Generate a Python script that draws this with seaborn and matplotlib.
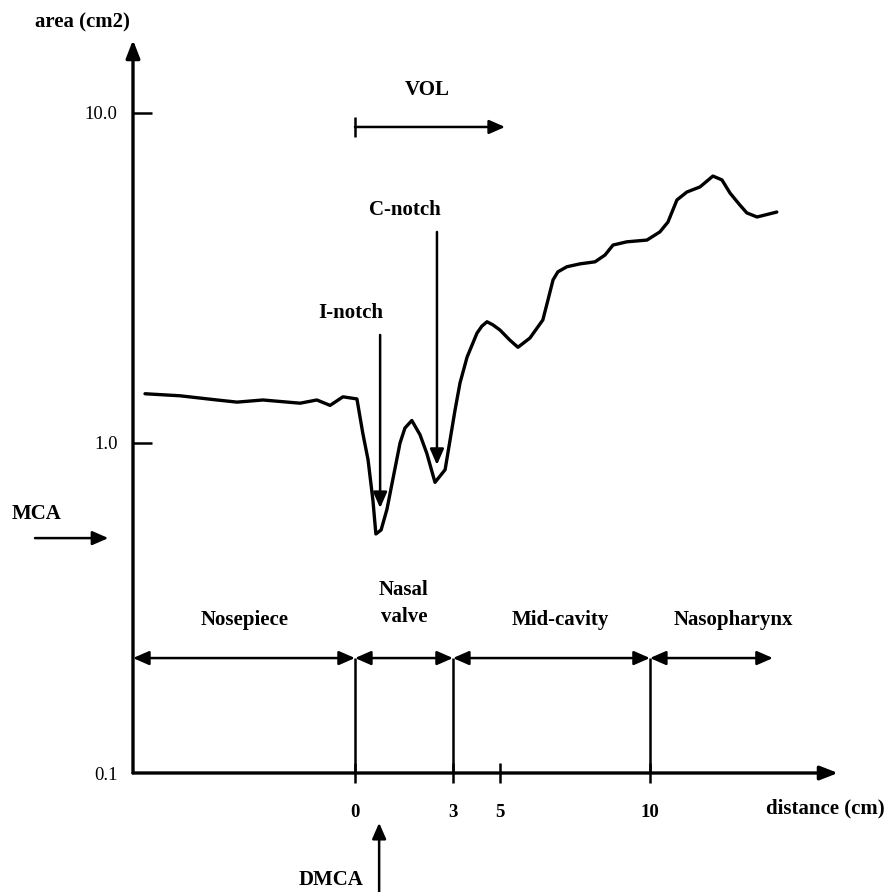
import numpy as np
import matplotlib
matplotlib.use('Agg')
import matplotlib.pyplot as plt
import seaborn as sns

# acoustic rhinometry curve
dist_cm = [-7.0, -5.83, -4.6, -3.93, -3.07, -1.83, -1.27, -0.83, -0.40, 0.06,
           0.24, 0.40, 0.55, 0.64, 0.80, 0.98, 1.13, 1.38, 1.53, 1.74, 1.99,
           2.20, 2.45, 2.76, 3.09, 3.3, 3.60, 4.02, 4.23, 4.45, 4.7, 5.0,
           5.33, 5.6, 6.0, 6.43, 6.6, 6.77, 6.93, 7.23, 7.67, 8.17, 8.5,
           8.77, 9.23, 9.9, 10.33, 10.6, 10.9, 11.23, 11.67, 11.83, 12.1,
           12.4, 12.67, 13.0, 13.23, 13.57, 14.23]
area_cm2 = [1.41, 1.39, 1.35, 1.33, 1.35, 1.32, 1.35, 1.30, 1.38, 1.36,
            1.07, 0.89, 0.67, 0.53, 0.545, 0.63, 0.75, 1.0, 1.11, 1.17, 1.06,
            0.93, 0.76, 0.83, 1.26, 1.52, 1.82, 2.15, 2.26, 2.33, 2.28, 2.20,
            2.05, 1.95, 2.08, 2.36, 2.71, 3.12, 3.30, 3.42, 3.49, 3.54, 3.71,
            3.98, 4.07, 4.12, 4.36, 4.67, 5.45, 5.76, 5.97, 6.14, 6.44,
            6.27, 5.72, 5.26, 4.98, 4.84, 5.01]

# anatomical regions (cm)
region_names = ['Nosepiece', 'Nasal\nvalve', 'Mid-cavity', 'Nasopharynx']
region_starts = [-7.4, 0, 3, 10]
region_ends = [0, 3, 10, 14.1]
region_label_x = [-3.67, 1.5, 7.0, 12.77]
region_edges = [0, 3, 10]

x_ticks = [0, 3, 5, 10]
y_ticks = [0.1, 1.0, 10.0]
y_tick_labels = ['0.1', '1.0', '10.0']

# the x axis in the picture is a sketch, not quite linear
knot_cm = [-20, 0, 3, 5, 10, 30]
knot_px = [-245, 355, 453, 500, 650, 1250]

def fwd(x):
    return np.interp(x, knot_cm, knot_px)

def inv(u):
    return np.interp(u, knot_px, knot_cm)

sns.set_theme(style='white')
plt.rcParams['font.family'] = ['Liberation Serif', 'DejaVu Serif']
plt.rcParams['text.color'] = 'black'
plt.rcParams['xtick.color'] = 'black'
plt.rcParams['ytick.color'] = 'black'

fig = plt.figure(figsize=(8.87, 8.92), dpi=100)
ax = fig.add_axes([133 / 887, 119 / 892, 705 / 887, 733 / 892])

sns.lineplot(x=dist_cm, y=area_cm2, color='black', linewidth=2.4,
             estimator=None, sort=False, ax=ax,
             solid_joinstyle='round', solid_capstyle='round')

ax.set_yscale('log')
ax.set_xscale('function', functions=(fwd, inv))
ax.set_xlim(-7.4, 16.27)
ax.set_ylim(0.1, 16.64)

ax.set_yticks(y_ticks)
ax.set_yticklabels(y_tick_labels)
ax.yaxis.set_minor_locator(matplotlib.ticker.NullLocator())
ax.set_xticks(x_ticks)
ax.set_xticklabels([str(t) for t in x_ticks], fontweight='bold')
ax.tick_params(axis='y', direction='in', length=14, width=1.8, color='black',
               labelsize=13.5, labelcolor='black', pad=11, left=True)
ax.tick_params(axis='x', direction='inout', length=14, width=1.8, color='black',
               labelsize=13.5, labelcolor='black', pad=15, bottom=True)
ax.yaxis.get_major_ticks()[0].tick1line.set_visible(False)
for s in ax.spines.values():
    s.set_visible(False)
ax.grid(False)
ax.set_xlabel('')
ax.set_ylabel('')

# axes with arrow heads
axis_arrow = dict(arrowstyle='-|>,head_length=0.9,head_width=0.35',
                  color='black', lw=2.4, shrinkA=0, shrinkB=0, mutation_scale=12)
ax.annotate('', xy=(0, 1), xytext=(0, 0), xycoords='axes fraction',
            arrowprops=axis_arrow, annotation_clip=False)
ax.annotate('', xy=(1, 0), xytext=(0, 0), xycoords='axes fraction',
            arrowprops=axis_arrow, annotation_clip=False)

arr = dict(arrowstyle='-|>,head_length=0.8,head_width=0.35', color='black',
           lw=1.8, shrinkA=0, shrinkB=0, mutation_scale=12)
dbl = dict(arrowstyle='<|-|>,head_length=0.8,head_width=0.35', color='black',
           lw=1.8, shrinkA=0, shrinkB=0, mutation_scale=12)

lab = dict(ha='center', va='center', fontsize=15, fontweight='bold', color='black')

# region boundaries and spans
band_y = 0.223
ax.vlines(region_edges, 0.1, band_y, color='black', lw=1.8)
for name, a, b, lx in zip(region_names, region_starts, region_ends, region_label_x):
    ax.annotate('', xy=(b, band_y), xytext=(a, band_y), arrowprops=dbl,
                annotation_clip=False)
    ly = 0.327 if '\n' in name else 0.29
    ax.text(lx, ly, name, linespacing=1.45, **lab)

# VOL
ax.annotate('', xy=(5.17, 9.07), xytext=(0, 9.07), arrowprops=arr)
ax.vlines(0, 8.45, 9.73, color='black', lw=1.8)
ax.text(2.2, 11.74, 'VOL', **lab)

# notches
ax.annotate('', xy=(0.77, 0.635), xytext=(0.77, 2.125), arrowprops=arr)
ax.text(-0.15, 2.48, 'I-notch', **lab)
ax.annotate('', xy=(2.51, 0.858), xytext=(2.51, 4.36), arrowprops=arr)
ax.text(1.53, 5.08, 'C-notch', **lab)

# MCA / DMCA
ax.annotate('', xy=(-0.035, 0.515), xytext=(-0.139, 0.515),
            xycoords=('axes fraction', 'data'), arrowprops=arr, annotation_clip=False)
fig.text(37 / 887, 1 - 514 / 892, 'MCA', **lab)
ax.annotate('', xy=(0.74, -0.068), xytext=(0.74, -0.17),
            xycoords=('data', 'axes fraction'), arrowprops=arr, annotation_clip=False)
fig.text(331 / 887, 1 - 880 / 892, 'DMCA', **lab)

fig.text(82 / 887, 1 - 22 / 892, 'area (cm2)', **lab)
fig.text(825 / 887, 1 - 808 / 892, 'distance (cm)', **lab)

fig.savefig('out.png', dpi=100, facecolor='white')
